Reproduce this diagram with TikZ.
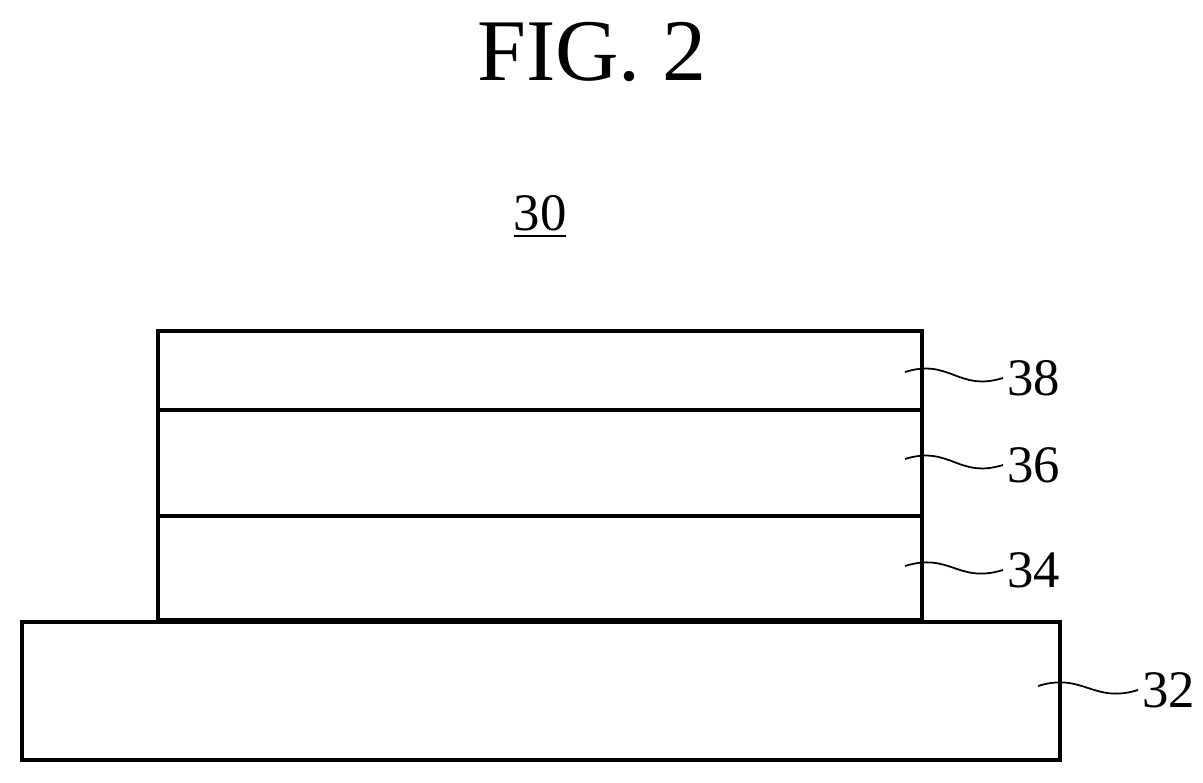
\documentclass[tikz,border=0pt]{standalone}
\usepackage{fontspec}
\setmainfont{Liberation Serif}
\usetikzlibrary{positioning}
\tikzset{
  layer/.style={draw, line width=0.9pt},
  ref/.style={font=\fontsize{15}{15}\selectfont, inner sep=1pt},
  lead/.style={line width=0.5pt}
}
\newcommand{\wavy}[2]{\draw [lead] (#1) .. controls ++(45,-14) and ++(-45,14) .. (#2);}
\begin{document}
\begin{tikzpicture}[x=0.01cm, y=-0.01cm]
    \useasboundingbox (0,0) rectangle (1203,783);
    % Title
    \node [font=\fontsize{25}{25}\selectfont] (title) at (592,52) {FIG. 2};
    \node [ref] (whole) at (540,217) {\underline{30}};
    % Layers
    \draw [layer] (158,620) rectangle (922,331);
    \draw [layer] (158,410) -- (922,410);
    \draw [layer] (158,516) -- (922,516);
    \draw [layer] (22,622) rectangle (1060,760);
    % Labels
    \node [ref, anchor=west] (l38) at (1003,378) {38};
    \node [ref, anchor=west] (l36) at (1003,465) {36};
    \node [ref, anchor=west] (l34) at (1003,570) {34};
    \node [ref, anchor=west] (l32) at (1138,690) {32};
    \coordinate (p38) at (905,372);
    \coordinate (p36) at (905,459);
    \coordinate (p34) at (905,566);
    \coordinate (p32) at (1038,686);
    % Leaders
    \wavy{p38}{l38.west}
    \wavy{p36}{l36.west}
    \wavy{p34}{l34.west}
    \wavy{p32}{l32.west}
\end{tikzpicture}
\end{document}
